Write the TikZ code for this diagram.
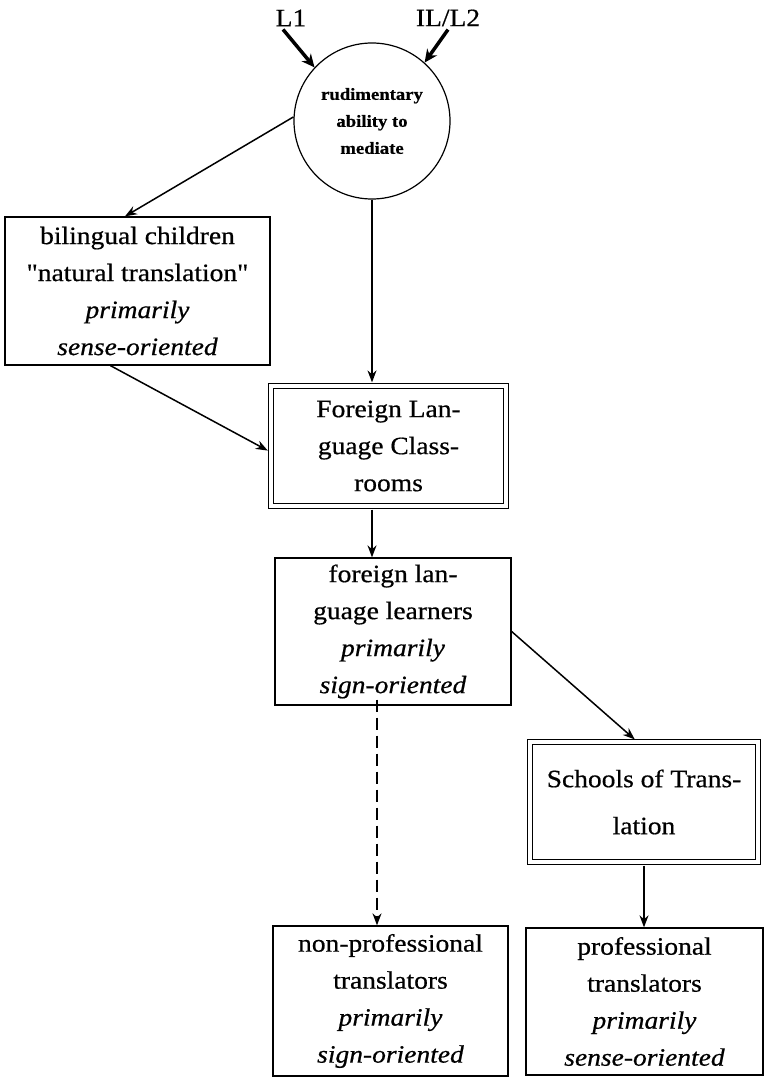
\documentclass[tikz,border=0pt]{standalone}
\usepackage{fontspec}
\setmainfont[FakeStretch=1.1,FakeBold=0.6,Ligatures=TeXOff]{Liberation Serif}
\usetikzlibrary{arrows.meta}
\tikzset{
  box/.style={draw, line width=1.3pt, align=center, inner sep=0pt,
    font=\fontsize{25}{37}\selectfont},
  dbox/.style={box, double, double distance=3.2pt, line width=1.2pt},
  arr/.style={line width=1.5pt, -{Stealth[length=12pt,width=9pt]}},
  thickarr/.style={line width=3.5pt, -{Stealth[length=13pt,width=12pt]}},
  lbl/.style={font=\fontsize{25}{30}\selectfont, inner sep=1pt}
}
\begin{document}
\begin{tikzpicture}[x=1pt,y=-1pt]
\useasboundingbox (0,0) rectangle (766,1078);
\node[draw, circle, line width=1.2pt, minimum size=156pt, inner sep=0pt, align=center,
  font=\bfseries\fontsize{17}{27}\selectfont] (circ) at (372,121)
  {rudimentary\\ability to\\mediate};
\node[lbl] (L1) at (291,18) {L1};
\node[lbl] (IL) at (448,18) {IL/L2};
\node[box, minimum width=265pt, minimum height=148pt] (bil) at (137.5,291)
  {bilingual children\\"natural translation"\\\textit{primarily}\\\textit{sense-oriented}};
\node[dbox, minimum width=235pt, minimum height=120pt] (flc) at (388.5,446)
  {Foreign Lan-\\guage Class-\\rooms};
\node[box, minimum width=236pt, minimum height=147pt] (learn) at (393,631.5)
  {foreign lan-\\guage learners\\\textit{primarily}\\\textit{sign-oriented}};
\node[dbox, minimum width=228pt, minimum height=120pt] (sch) at (644,802)
  {Schools of Trans-\\[10pt]lation};
\node[box, minimum width=235pt, minimum height=150pt] (nonp) at (390.5,1001)
  {non-professional\\translators\\\textit{primarily}\\\textit{sign-oriented}};
\node[box, minimum width=237pt, minimum height=147pt] (prof) at (644.5,1001.5)
  {professional\\translators\\\textit{primarily}\\\textit{sense-oriented}};
\draw[thickarr] ([xshift=-8pt,yshift=-2pt]L1.south) -- (circ.137);
\draw[thickarr] ([xshift=0pt,yshift=-2pt]IL.south) -- (circ.48);
\draw[arr] (circ.177) -- ([xshift=-12.5pt]bil.north);
\draw[arr, shorten >=3pt] (circ.south) -- (circ.south |- flc.north);
\draw[arr, shorten >=3pt] ([xshift=-27pt]bil.south) -- ([yshift=-6pt]flc.west);
\draw[arr, shorten <=3pt] (circ.south |- flc.south) -- (circ.south |- learn.north);
\draw[arr, shorten >=3pt] (learn.east) -- ([xshift=-7pt]sch.north);
\draw[arr, dash pattern=on 12pt off 6pt] ([xshift=-16pt,yshift=6pt]learn.south) -- ([xshift=-16pt]learn.south |- nonp.north);
\draw[arr, shorten <=3pt] (sch.south) -- (sch.south |- prof.north);
\end{tikzpicture}
\end{document}
